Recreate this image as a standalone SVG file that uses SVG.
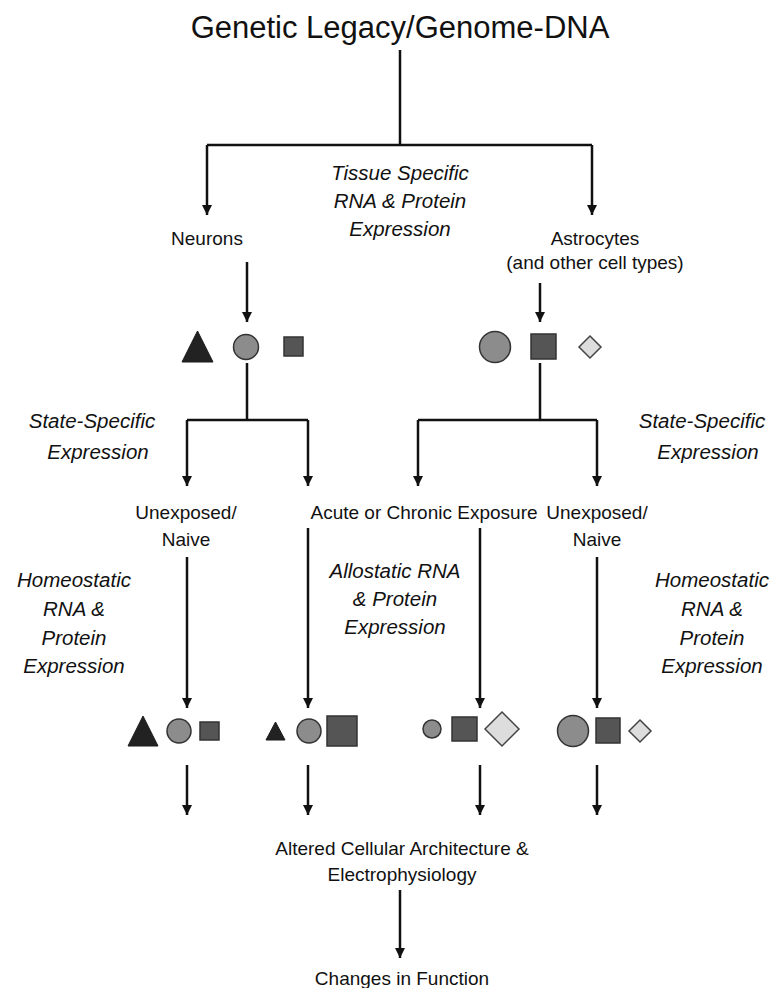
<svg xmlns="http://www.w3.org/2000/svg" width="777" height="988" viewBox="0 0 777 988">
<style>
text{font-family:"Liberation Sans","DejaVu Sans",sans-serif;fill:#111;text-anchor:middle}
.t{font-size:31px}
.n{font-size:19px}
.i{font-size:20.5px;font-style:italic}
.c{stroke:#111;stroke-width:2.5;fill:none}
.tri{fill:#222;stroke:#1a1a1a;stroke-width:1}
.cir{fill:#8c8c8c;stroke:#333;stroke-width:1.5}
.sq{fill:#555;stroke:#333;stroke-width:1.5}
.dia{fill:#ddd;stroke:#444;stroke-width:1.5}
</style>
<defs>
<marker id="ah" viewBox="0 0 10 10" refX="10" refY="5" markerWidth="4.2" markerHeight="4.2" markerUnits="strokeWidth" orient="auto">
<path d="M0,0 L10,5 L0,10 z" fill="#111"/>
</marker>
</defs>
<rect width="777" height="988" fill="#fff"/>
<g id="connectors" class="c">
<path d="M400,50 V145 M207,145 H592"/>
<path d="M207,145 V215" marker-end="url(#ah)"/>
<path d="M592,145 V215" marker-end="url(#ah)"/>
<path d="M247,262 V322" marker-end="url(#ah)"/>
<path d="M540,283 V322" marker-end="url(#ah)"/>
<path d="M247,363 V420 M187,420 H308 M540,363 V420 M418,420 H597"/>
<path d="M187,420 V486" marker-end="url(#ah)"/>
<path d="M308,420 V486" marker-end="url(#ah)"/>
<path d="M418,420 V486" marker-end="url(#ah)"/>
<path d="M597,420 V486" marker-end="url(#ah)"/>
<path d="M187,557 V708" marker-end="url(#ah)"/>
<path d="M308,528 V708" marker-end="url(#ah)"/>
<path d="M480,528 V708" marker-end="url(#ah)"/>
<path d="M597,557 V708" marker-end="url(#ah)"/>
<path d="M187,765 V815" marker-end="url(#ah)"/>
<path d="M308,765 V815" marker-end="url(#ah)"/>
<path d="M480,765 V815" marker-end="url(#ah)"/>
<path d="M597,765 V815" marker-end="url(#ah)"/>
<path d="M400,890 V958" marker-end="url(#ah)"/>
</g>
<g id="title"><text class="t" x="400" y="38">Genetic Legacy/Genome-DNA</text></g>
<g id="tissue"><text class="i" x="400" y="180">Tissue Specific</text><text class="i" x="400" y="208">RNA &amp; Protein</text><text class="i" x="400" y="236">Expression</text></g>
<g id="neurons"><text class="n" x="207" y="245">Neurons</text></g>
<g id="astrocytes"><text class="n" x="595" y="245">Astrocytes</text><text class="n" x="595" y="269">(and other cell types)</text></g>
<g id="neuron-shapes">
<polygon class="tri" points="182,362 197.5,331 213,362"/>
<circle class="cir" cx="246" cy="347" r="12.5"/>
<rect class="sq" x="284" y="337" width="19" height="19"/>
</g>
<g id="astro-shapes">
<circle class="cir" cx="495" cy="347" r="15.5"/>
<rect class="sq" x="531" y="334" width="25" height="25"/>
<polygon class="dia" points="590,336 601,347 590,358 579,347"/>
</g>
<g id="state-left"><text class="i" x="92" y="428">State-Specific</text><text class="i" x="98" y="459">Expression</text></g>
<g id="state-right"><text class="i" x="702" y="428">State-Specific</text><text class="i" x="708" y="459">Expression</text></g>
<g id="unexposed-left"><text class="n" x="186" y="519">Unexposed/</text><text class="n" x="186" y="546">Naive</text></g>
<g id="exposure"><text class="n" x="424" y="519">Acute or Chronic Exposure</text></g>
<g id="unexposed-right"><text class="n" x="597" y="519">Unexposed/</text><text class="n" x="597" y="546">Naive</text></g>
<g id="homeo-left"><text class="i" x="74" y="587">Homeostatic</text><text class="i" x="74" y="616">RNA &amp;</text><text class="i" x="74" y="645">Protein</text><text class="i" x="74" y="673">Expression</text></g>
<g id="allo"><text class="i" x="395" y="578">Allostatic RNA</text><text class="i" x="395" y="606">&amp; Protein</text><text class="i" x="395" y="634">Expression</text></g>
<g id="homeo-right"><text class="i" x="712" y="587">Homeostatic</text><text class="i" x="712" y="616">RNA &amp;</text><text class="i" x="712" y="645">Protein</text><text class="i" x="712" y="673">Expression</text></g>
<g id="shapes-1">
<polygon class="tri" points="128,746 143,716 158,746"/>
<circle class="cir" cx="179" cy="731" r="12"/>
<rect class="sq" x="200" y="722" width="19" height="18"/>
</g>
<g id="shapes-2">
<polygon class="tri" points="266,740 275.5,722 285,740"/>
<circle class="cir" cx="309" cy="731" r="12"/>
<rect class="sq" x="327" y="716" width="30" height="30"/>
</g>
<g id="shapes-3">
<circle class="cir" cx="432" cy="729" r="9"/>
<rect class="sq" x="452" y="717" width="25" height="24"/>
<polygon class="dia" points="502,712 519,729 502,746 485,729"/>
</g>
<g id="shapes-4">
<circle class="cir" cx="573" cy="731" r="15.5"/>
<rect class="sq" x="596" y="718" width="24" height="25"/>
<polygon class="dia" points="640,720 651,731 640,742 629,731"/>
</g>
<g id="altered"><text class="n" x="402" y="855">Altered Cellular Architecture &amp;</text><text class="n" x="402" y="881">Electrophysiology</text></g>
<g id="changes"><text class="n" x="402" y="985">Changes in Function</text></g>
</svg>
